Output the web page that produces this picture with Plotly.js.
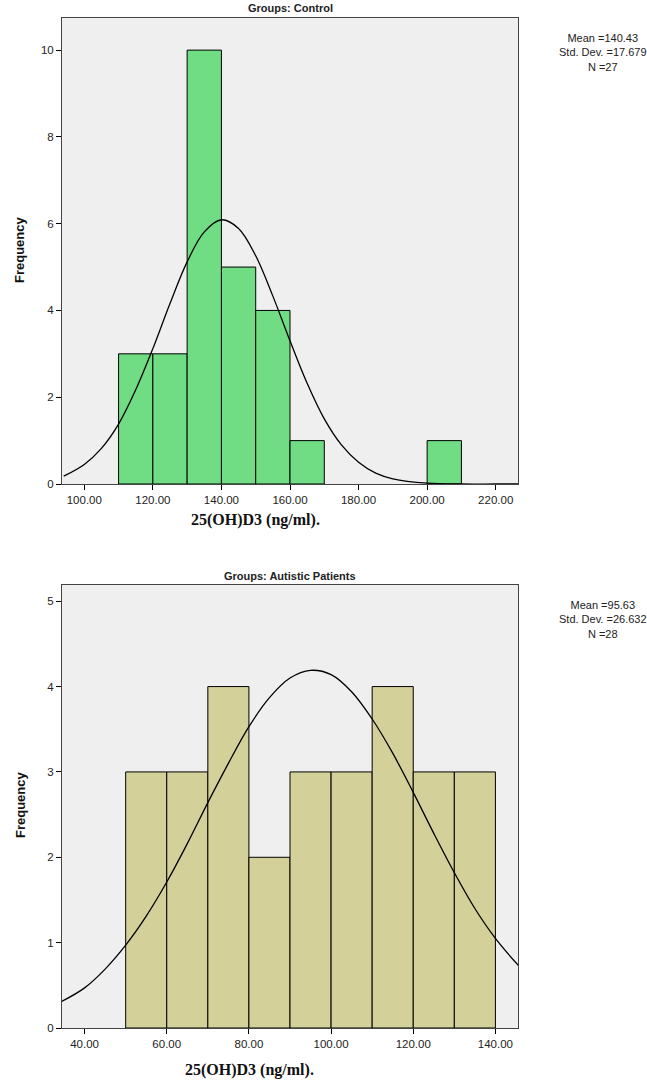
<!DOCTYPE html>
<html>
<head>
<meta charset="utf-8">
<script src="https://cdn.plot.ly/plotly-3.0.1.min.js"></script>
<style>html,body{margin:0;padding:0;background:#fff;}#chart{width:647px;height:1088px;}</style>
</head>
<body>
<div id="chart"></div>
<script>
// ---- Control group histogram ----
const controlBinCenters = [115, 125, 135, 145, 155, 165, 205];
const controlCounts = [3, 3, 10, 5, 4, 1, 1];
const controlCurveX = [94, 100, 105, 110, 115, 120, 125, 130, 135, 140, 145, 150, 155, 160, 165, 170, 175, 180, 185, 190, 200, 210, 220, 227];
const controlCurveY = [0.18, 0.45, 0.82, 1.38, 2.17, 3.12, 4.16, 5.12, 5.81, 6.09, 5.89, 5.26, 4.33, 3.30, 2.32, 1.50, 0.90, 0.50, 0.25, 0.12, 0.02, 0.0, 0.0, 0.0];
const controlStats = ["Mean =140.43", "Std. Dev. =17.679", "N =27"];
const controlXTicks = [100, 120, 140, 160, 180, 200, 220];
const controlXTickLabels = ["100.00", "120.00", "140.00", "160.00", "180.00", "200.00", "220.00"];
const controlYTicks = [0, 2, 4, 6, 8, 10];

// ---- Autistic patients histogram ----
const autisticBinCenters = [55, 65, 75, 85, 95, 105, 115, 125, 135];
const autisticCounts = [3, 3, 4, 2, 3, 3, 4, 3, 3];
const autisticCurveX = [34, 40, 45, 50, 55, 60, 65, 70, 75, 80, 85, 90, 95, 100, 105, 110, 115, 120, 125, 130, 135, 140, 146];
const autisticCurveY = [0.30, 0.47, 0.69, 0.97, 1.31, 1.71, 2.16, 2.64, 3.10, 3.53, 3.87, 4.10, 4.19, 4.14, 3.94, 3.62, 3.22, 2.76, 2.28, 1.82, 1.40, 1.05, 0.71];
const autisticStats = ["Mean =95.63", "Std. Dev. =26.632", "N =28"];
const autisticXTicks = [40, 60, 80, 100, 120, 140];
const autisticXTickLabels = ["40.00", "60.00", "80.00", "100.00", "120.00", "140.00"];
const autisticYTicks = [0, 1, 2, 3, 4, 5];

const panelTitles = ["Groups: Control", "Groups: Autistic Patients"];
const xTitle = "25(OH)D3 (ng/ml).";
const yTitle = "Frequency";

const narrow = "Liberation Sans Narrow, Arial Narrow, Liberation Sans, Arial, sans-serif";

const traces = [
  {type: 'bar', x: controlBinCenters, y: controlCounts, width: 10, xaxis: 'x', yaxis: 'y',
   marker: {color: 'rgb(112,220,132)', line: {color: '#000', width: 1}}, hoverinfo: 'x+y'},
  {type: 'scatter', mode: 'lines', x: controlCurveX, y: controlCurveY, xaxis: 'x', yaxis: 'y',
   line: {color: '#000', width: 1.3, shape: 'spline', smoothing: 1}, cliponaxis: true},
  {type: 'bar', x: autisticBinCenters, y: autisticCounts, width: 10, xaxis: 'x2', yaxis: 'y2',
   marker: {color: 'rgb(212,208,154)', line: {color: '#000', width: 1}}, hoverinfo: 'x+y'},
  {type: 'scatter', mode: 'lines', x: autisticCurveX, y: autisticCurveY, xaxis: 'x2', yaxis: 'y2',
   line: {color: '#000', width: 1.3, shape: 'spline', smoothing: 1}, cliponaxis: true}
];

const axisCommon = {
  showgrid: false, zeroline: false, showline: true, mirror: true,
  linecolor: '#444', linewidth: 1, ticks: 'outside', ticklen: 5, tickcolor: '#000',
  tickfont: {family: narrow, size: 11.5, color: '#222'}, fixedrange: true
};

function ann(text, px, py, font, extra) {
  return Object.assign({text: text, xref: 'paper', yref: 'paper', x: px / 647, y: 1 - py / 1088,
    xanchor: 'center', yanchor: 'middle', showarrow: false, align: 'center', font: font}, extra || {});
}
const smallFont = {family: narrow, size: 11, color: '#222'};
const yTitleFont = {family: 'Liberation Sans, Arial, sans-serif', size: 13, color: '#111'};
const xTitleFont = {family: 'Liberation Serif, Times New Roman, serif', size: 16, color: '#111'};

const xd = [62/647, 518/647];
const layout = {
  width: 647, height: 1088,
  margin: {l: 0, r: 0, t: 0, b: 0},
  paper_bgcolor: '#fff', plot_bgcolor: '#efefef',
  showlegend: false, bargap: 0,
  xaxis: Object.assign({}, axisCommon, {domain: xd, anchor: 'y', range: [93.5, 226.5],
    tickvals: controlXTicks, ticktext: controlXTickLabels}),
  yaxis: Object.assign({}, axisCommon, {domain: [(1088-484)/1088, (1088-18)/1088], anchor: 'x',
    range: [0, 10.74], tickvals: controlYTicks, ticktext: controlYTicks.map(String)}),
  xaxis2: Object.assign({}, axisCommon, {domain: xd, anchor: 'y2', range: [34.5, 145.5],
    tickvals: autisticXTicks, ticktext: autisticXTickLabels}),
  yaxis2: Object.assign({}, axisCommon, {domain: [(1088-1028)/1088, (1088-585)/1088], anchor: 'x2',
    range: [0, 5.19], tickvals: autisticYTicks, ticktext: autisticYTicks.map(String)}),
  annotations: [
    ann('<b>' + panelTitles[0] + '</b>', 290, 8, smallFont),
    ann('<b>' + panelTitles[1] + '</b>', 290, 576, smallFont),
    ann(controlStats.join('<br>'), 603, 52, smallFont),
    ann(autisticStats.join('<br>'), 603, 619, smallFont),
    ann('<b>' + yTitle + '</b>', 20, 250, yTitleFont, {textangle: -90}),
    ann('<b>' + yTitle + '</b>', 20, 805, yTitleFont, {textangle: -90}),
    ann('<b>' + xTitle + '</b>', 255, 520, xTitleFont),
    ann('<b>' + xTitle + '</b>', 249, 1070, xTitleFont)
  ]
};

Plotly.newPlot('chart', traces, layout, {displayModeBar: false, staticPlot: true});
</script>
</body>
</html>
